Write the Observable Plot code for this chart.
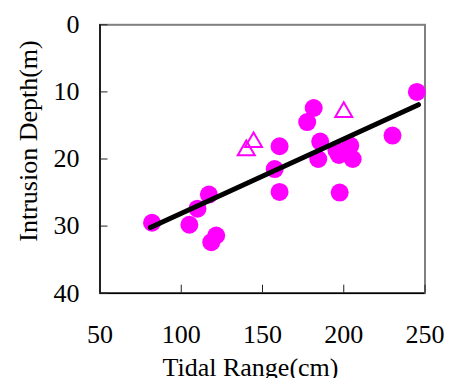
<!DOCTYPE html>
<html>
<head>
<meta charset="utf-8">
<script src="https://cdn.jsdelivr.net/npm/d3@7"></script>
<script src="https://cdn.jsdelivr.net/npm/@observablehq/plot@0.6"></script>
<style>
  html, body { margin: 0; padding: 0; background: #fff; }
</style>
</head>
<body>
<div id="chart"></div>
<script>
const circlesX = [82, 105, 110, 117, 121.5, 118.5, 157.5, 160.5, 160.5, 177.5, 181.5, 185.5, 184.3, 195.5, 197, 204, 205.5, 197.5, 230, 245];
const circlesY = [29.5, 29.8, 27.4, 25.3, 31.4, 32.4, 21.5, 18.1, 24.9, 14.5, 12.4, 17.4, 20.0, 18.7, 19.4, 18.0, 20.0, 25.0, 16.5, 10.0];
const trianglesX = [140, 144.5, 200];
const trianglesY = [18.7, 17.5, 13.0];
const lineX = [81, 246];
const lineY = [30.2, 11.9];
const xTicks = [50, 100, 150, 200, 250];
const yTicks = [0, 10, 20, 30, 40];
const xLabel = "Tidal Range(cm)";
const yLabel = "Intrusion Depth(m)";

const circles = circlesX.map((x, i) => ({x, y: circlesY[i]}));
const triangles = trianglesX.map((x, i) => ({x, y: trianglesY[i]}));
const line = lineX.map((x, i) => ({x, y: lineY[i]}));

const W = 455, H = 378;
const mL = 99.5, mR = 30.5, mT = 24.3, mB = 85.3;
const innerW = W - mL - mR, innerH = H - mT - mB;
const font = "Liberation Serif";

const chart = Plot.plot({
  width: W,
  height: H,
  marginLeft: mL,
  marginRight: mR,
  marginTop: mT,
  marginBottom: mB,
  style: {fontFamily: font, fontSize: "26px", background: "#fff", color: "#000"},
  x: {domain: [50, 250], axis: null},
  y: {domain: [0, 40], reverse: true, axis: null},
  marks: [
    Plot.frame({stroke: "#808080", strokeWidth: 2}),
    Plot.ruleX([50], {stroke: "#000", strokeWidth: 1.5}),
    Plot.ruleY([40], {stroke: "#000", strokeWidth: 1.5}),
    Plot.tickX(xTicks, {x: d => d, insetTop: innerH - 8, stroke: "#222", strokeWidth: 1}),
    Plot.tickY(yTicks, {y: d => d, insetRight: innerW - 8, stroke: "#222", strokeWidth: 1}),
    Plot.text(xTicks, {x: d => d, text: d => String(d), frameAnchor: "bottom", lineAnchor: "top", dy: 31, fontSize: 26, fontFamily: font, fill: "#000"}),
    Plot.text(yTicks, {y: d => d, text: d => String(d), frameAnchor: "left", textAnchor: "end", dx: -20.5, fontSize: 26, fontFamily: font, fill: "#000"}),
    Plot.dot(circles, {x: "x", y: "y", r: 9, fill: "#ff00ff", stroke: "none"}),
    Plot.dot(triangles, {x: "x", y: "y", r: 6.3, symbol: "triangle", fill: "none", stroke: "#ff00ff", strokeWidth: 2}),
    Plot.line(line, {x: "x", y: "y", stroke: "#000", strokeWidth: 5}),
    Plot.text([xLabel], {text: d => d, frameAnchor: "bottom", textAnchor: "middle", lineAnchor: "bottom", dx: -12, dy: 82.5, fontSize: 26, fontFamily: font, fill: "#000"}),
    Plot.text([yLabel], {text: d => d, frameAnchor: "left", textAnchor: "middle", rotate: -90, dx: -71.8, dy: -18, fontSize: 26, fontFamily: font, fill: "#000"})
  ]
});
document.getElementById("chart").appendChild(chart);
</script>
</body>
</html>
